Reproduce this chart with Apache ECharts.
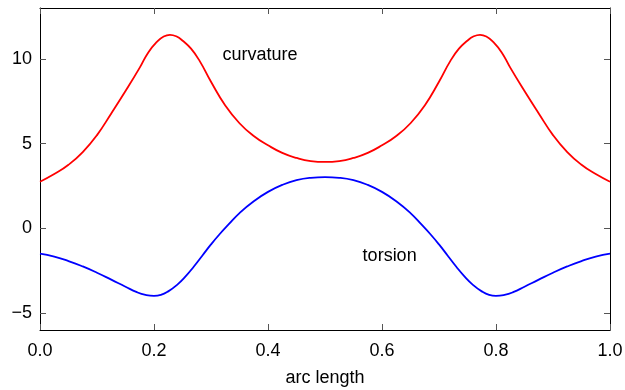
<!DOCTYPE html>
<html>
<head>
<meta charset="utf-8">
<script src="https://cdn.jsdelivr.net/npm/echarts@6/dist/echarts.min.js"></script>
<style>
  html, body { margin: 0; padding: 0; background: #fff; }
  #chart { width: 625px; height: 390px; }
</style>
</head>
<body>
<div id="chart"></div>
<script>
// sampled arc length positions, denser around the extrema
const curvatureX = [
  0, 0.025, 0.05, 0.075, 0.1, 0.125, 0.15, 0.175, 0.19, 0.205, 0.217, 0.228,
  0.239, 0.251, 0.265, 0.28, 0.3, 0.325, 0.35, 0.375, 0.4, 0.425, 0.45, 0.475,
  0.5, 0.525, 0.55, 0.575, 0.6, 0.625, 0.65, 0.675, 0.7, 0.72, 0.735, 0.749,
  0.761, 0.772, 0.783, 0.795, 0.81, 0.825, 0.85, 0.875, 0.9, 0.925, 0.95, 0.975, 1
];
const curvature = [
  2.75, 3.2, 3.75, 4.5, 5.5, 6.78, 8.1, 9.48, 10.38, 11.0, 11.32, 11.42,
  11.33, 11.05, 10.6, 9.88, 8.65, 7.25, 6.2, 5.45, 4.9, 4.45, 4.15, 3.97,
  3.92, 3.97, 4.15, 4.45, 4.9, 5.45, 6.2, 7.25, 8.65, 9.88, 10.6, 11.05,
  11.33, 11.42, 11.32, 11.0, 10.38, 9.48, 8.1, 6.78, 5.5, 4.5, 3.75, 3.2, 2.75
];
const torsionX = [
  0, 0.025, 0.05, 0.075, 0.1, 0.125, 0.15, 0.17, 0.185, 0.2, 0.212, 0.225,
  0.24, 0.255, 0.27, 0.285, 0.3, 0.315, 0.33, 0.35, 0.375, 0.4, 0.425, 0.45,
  0.475, 0.5, 0.525, 0.55, 0.575, 0.6, 0.625, 0.65, 0.67, 0.685, 0.7, 0.715,
  0.73, 0.745, 0.76, 0.775, 0.788, 0.8, 0.815, 0.83, 0.85, 0.875, 0.9, 0.925,
  0.95, 0.975, 1
];
const torsion = [
  -1.49, -1.67, -1.93, -2.25, -2.62, -3.03, -3.45, -3.77, -3.93, -3.99, -3.93, -3.72,
  -3.35, -2.85, -2.25, -1.6, -0.95, -0.35, 0.2, 0.9, 1.6, 2.15, 2.56, 2.84,
  2.98, 3.02, 2.98, 2.84, 2.56, 2.15, 1.6, 0.9, 0.2, -0.35, -0.95, -1.6,
  -2.25, -2.85, -3.35, -3.72, -3.93, -3.99, -3.93, -3.77, -3.45, -3.03, -2.62, -2.25,
  -1.93, -1.67, -1.49
];
const yTicks = [-5, 0, 5, 10];
const labels = [
  { text: "curvature", x: 0.32, y: 10.2 },
  { text: "torsion", x: 0.566, y: -1.63 }
];

const font = "'Liberation Sans', Arial, sans-serif";
const chart = echarts.init(document.getElementById("chart"), null, { renderer: "canvas" });

const tickStyle = { show: true, inside: true, length: 6, lineStyle: { color: "#555", width: 1 } };
const lineStyleAxis = { show: true, onZero: false, lineStyle: { color: "#000", width: 1 } };

const option = {
  backgroundColor: "#fff",
  animation: false,
  grid: { left: 40, right: 15, top: 8, bottom: 60, containLabel: false, outerBoundsMode: "none" },
  xAxis: [
    {
      type: "value", min: 0, max: 1, interval: 0.2,
      name: "arc length", nameLocation: "middle", nameGap: 39,
      nameTextStyle: { color: "#000", fontSize: 18, fontFamily: font },
      axisLine: lineStyleAxis,
      axisTick: tickStyle,
      axisLabel: {
        color: "#000", fontSize: 18, fontFamily: font, margin: 12,
        formatter: v => v.toFixed(1)
      },
      splitLine: { show: false }
    },
    {
      type: "value", position: "top", min: 0, max: 1, interval: 0.2,
      axisLine: lineStyleAxis, axisTick: tickStyle,
      axisLabel: { show: false }, splitLine: { show: false }
    }
  ],
  yAxis: [
    {
      type: "value", min: -6, max: 13,
      axisLine: lineStyleAxis,
      axisTick: Object.assign({ customValues: yTicks }, tickStyle),
      axisLabel: {
        color: "#000", fontSize: 18, fontFamily: font, margin: 8,
        customValues: yTicks,
        formatter: v => String(v).replace("-", "\u2212")
      },
      splitLine: { show: false }
    },
    {
      type: "value", position: "right", min: -6, max: 13,
      axisLine: lineStyleAxis,
      axisTick: Object.assign({ customValues: yTicks }, tickStyle),
      axisLabel: { show: false }, splitLine: { show: false }
    }
  ],
  series: [
    {
      name: "curvature", type: "line", smooth: 0.5, showSymbol: false,
      data: curvatureX.map((x, i) => [x, curvature[i]]),
      lineStyle: { color: "#ff0000", width: 1.8 }
    },
    {
      name: "torsion", type: "line", smooth: 0.5, showSymbol: false,
      data: torsionX.map((x, i) => [x, torsion[i]]),
      lineStyle: { color: "#0000ff", width: 1.8 }
    }
  ]
};

chart.setOption(option);

chart.setOption({
  graphic: labels.map(l => {
    const p = chart.convertToPixel({ xAxisIndex: 0, yAxisIndex: 0 }, [l.x, l.y]);
    return {
      type: "text", x: p[0], y: p[1],
      style: { text: l.text, fill: "#000", font: "18px " + font, textAlign: "left", textVerticalAlign: "middle" }
    };
  })
});
</script>
</body>
</html>
